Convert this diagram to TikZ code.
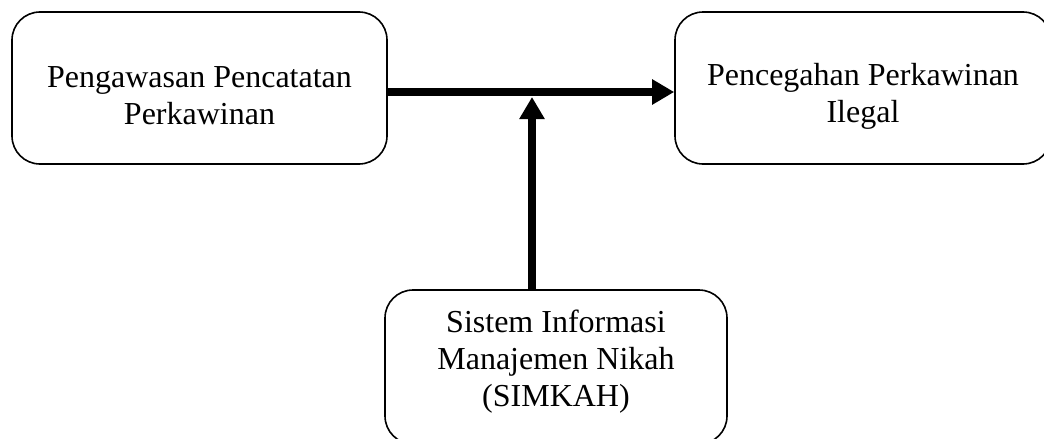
\documentclass[tikz,border=0pt]{standalone}
\usepackage{fontspec}
\setmainfont{Liberation Serif}
\usetikzlibrary{arrows.meta}
\begin{document}
\begin{tikzpicture}[x=1pt,y=-1pt,
  box/.style={draw=black,line width=1.6pt,rounded corners=28pt,fill=white,inner sep=0pt},
  txt/.style={align=center,font=\fontsize{32}{37}\selectfont,inner sep=0pt},
  conn/.style={line width=8pt,-{Triangle[length=22pt,width=24pt]}}]
\useasboundingbox (0,0) rectangle (1044,439);
\begin{scope}
\clip (0,0) rectangle (1044,439);
\node[box,minimum width=375pt,minimum height=152pt] (L) at (199.5,88) {};
\node[box,minimum width=376pt,minimum height=152pt] (R) at (863,88) {};
\node[box,minimum width=342pt,minimum height=154pt] (B) at (556,367) {};
\end{scope}
\node[txt] (Lt) at ([yshift=-8pt]L.center) {Pengawasan Pencatatan\\Perkawinan};
\node[txt] (Rt) at ([yshift=-8pt]R.center) {Pencegahan Perkawinan\\Ilegal};
\node[txt] (Bt) at ([yshift=5pt]B.center) {Sistem Informasi\\Manajemen Nikah\\(SIMKAH)};
\coordinate (J) at (532,97);
\draw[conn] ([yshift=-4pt]L.east) -- ([yshift=-4pt]R.west);
\draw[conn] (J |- B.north) -- (J);
\end{tikzpicture}
\end{document}
